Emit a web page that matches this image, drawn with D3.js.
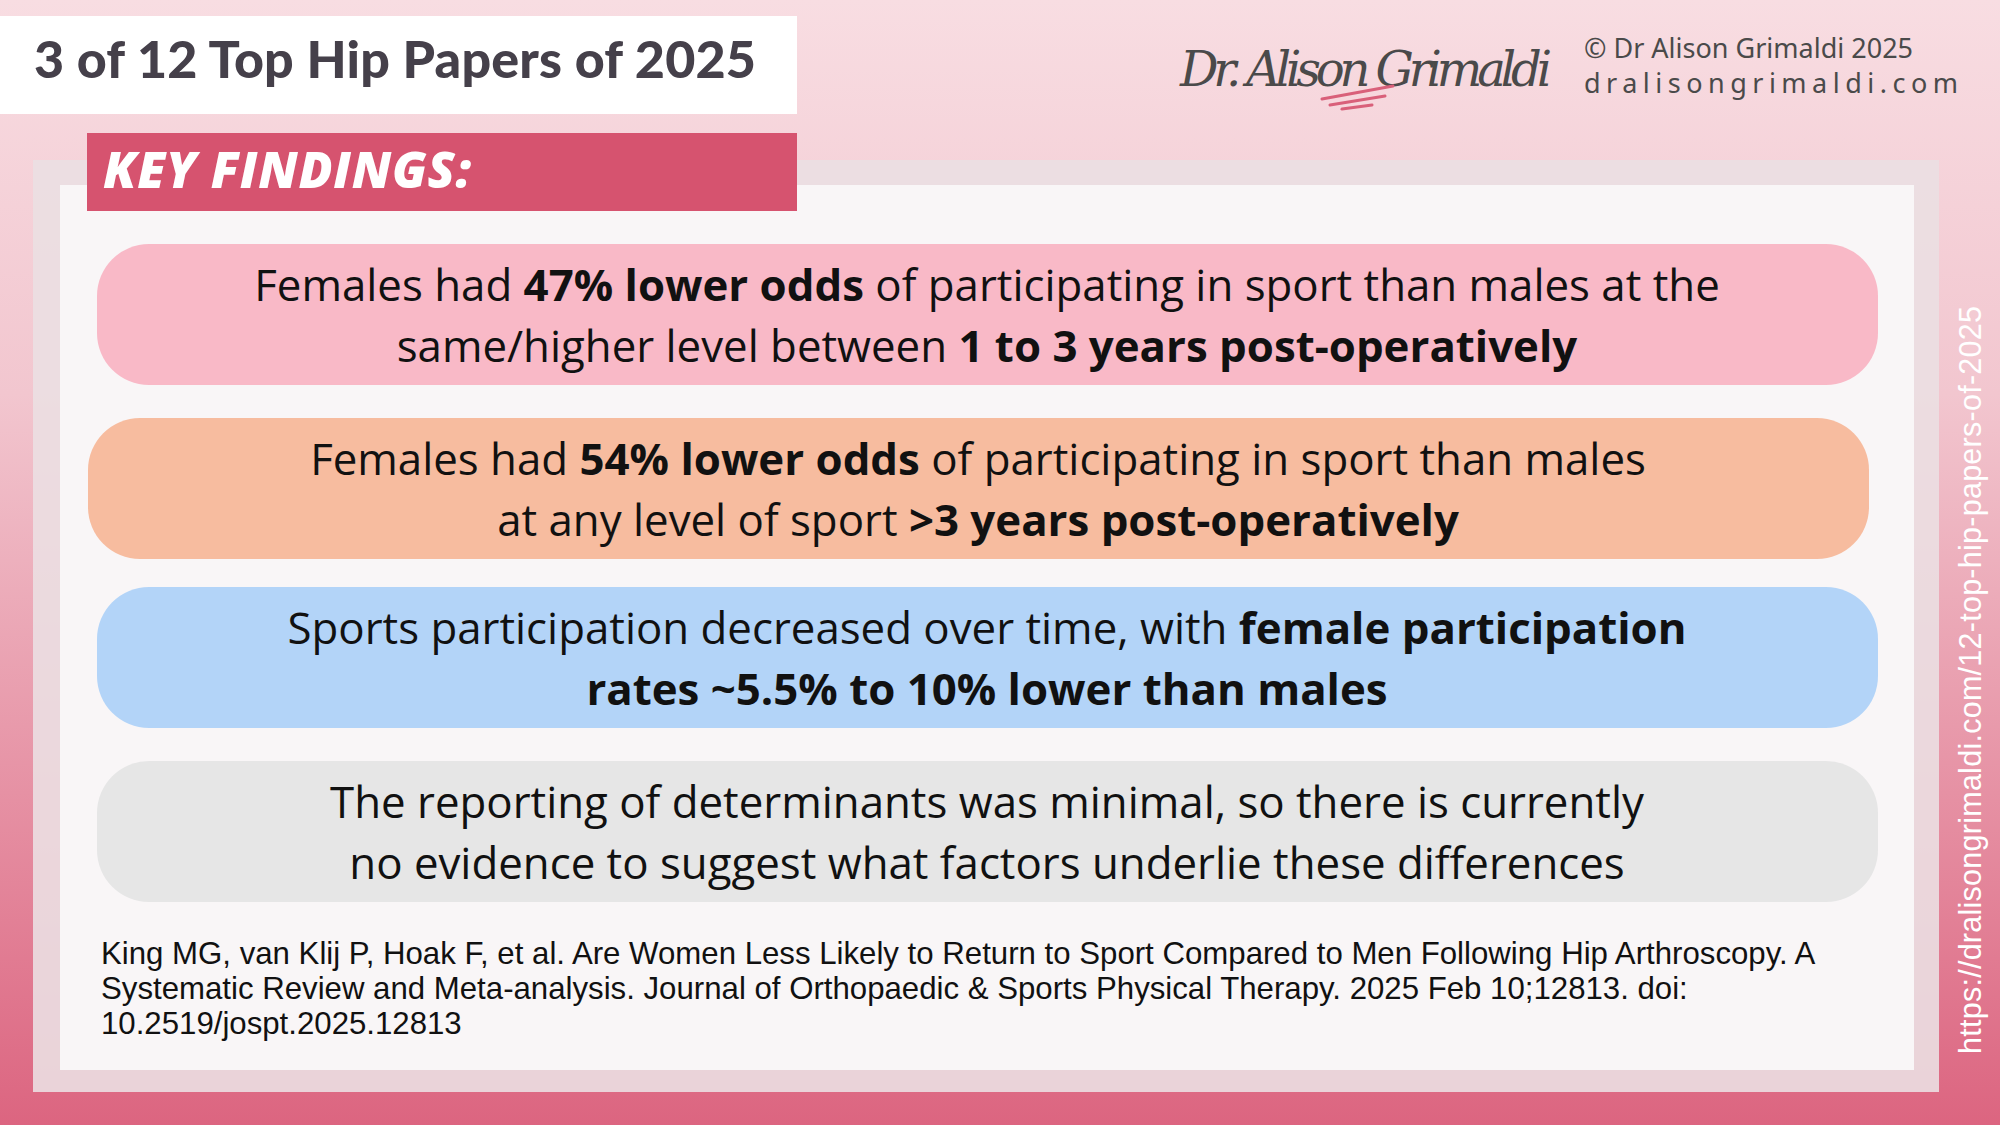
<!DOCTYPE html>
<html><head><meta charset="utf-8">
<script src="https://cdn.jsdelivr.net/npm/d3@7"></script>
<style>body{margin:0;overflow:hidden}</style></head>
<body><svg id="c" width="2000" height="1125"></svg>
<script>
const title = "3 of 12 Top Hip Papers of 2025";
const heading = "KEY FINDINGS:";
const findingColors = ["#f9b9c7","#f7bc9f","#b3d4f8","#e6e6e6"];
const findings = [
 [[["Females had ",0],["47% lower odds",1],[" of participating in sport than males at the",0]],
  [["same/higher level between ",0],["1 to 3 years post-operatively",1]]],
 [[["Females had ",0],["54% lower odds",1],[" of participating in sport than males",0]],
  [["at any level of sport ",0],[">3 years post-operatively",1]]],
 [[["Sports participation decreased over time, with ",0],["female participation",1]],
  [["rates ~5.5% to 10% lower than males",1]]],
 [[["The reporting of determinants was minimal, so there is currently",0]],
  [["no evidence to suggest what factors underlie these differences",0]]]
];
const pillX = [97,88,97,97];
const pillY = [244,418,587,761];
const citation = ["King MG, van Klij P, Hoak F, et al. Are Women Less Likely to Return to Sport Compared to Men Following Hip Arthroscopy. A",
 "Systematic Review and Meta-analysis. Journal of Orthopaedic & Sports Physical Therapy. 2025 Feb 10;12813. doi:",
 "10.2519/jospt.2025.12813"];
const url = "https://dralisongrimaldi.com/12-top-hip-papers-of-2025";

const svg = d3.select("#c");
const defs = svg.append("defs");
const g = defs.append("linearGradient").attr("id","bg").attr("x1",0).attr("x2",0).attr("y1",0).attr("y2",1);
g.append("stop").attr("offset","0%").attr("stop-color","#f8dde2");
g.append("stop").attr("offset","35%").attr("stop-color","#f2c6cf");
g.append("stop").attr("offset","100%").attr("stop-color","#dc6580");
svg.append("rect").attr("width",2000).attr("height",1125).attr("fill","url(#bg)");

svg.append("rect").attr("x",33).attr("y",160).attr("width",1906).attr("height",932).attr("fill","#ebdfe2").attr("opacity",0.9);
svg.append("rect").attr("x",60).attr("y",185).attr("width",1854).attr("height",885).attr("fill","#f9f6f7");

svg.append("rect").attr("x",0).attr("y",16).attr("width",797).attr("height",98).attr("fill","#ffffff");
svg.append("text").attr("x",34).attr("y",78).attr("font-family","Lato, 'Open Sans', sans-serif").attr("font-weight",900)
 .attr("font-size",52).attr("fill","#45404a").attr("textLength",722).text(title);

svg.append("rect").attr("x",87).attr("y",133).attr("width",710).attr("height",78).attr("fill","#d6536f");
svg.append("text").attr("x",103).attr("y",188).attr("font-family","'Open Sans', sans-serif").attr("font-weight",800).attr("font-style","italic")
 .attr("font-size",50).attr("fill","#fff").attr("textLength",368).text(heading);

const y = d3.scaleOrdinal().domain(d3.range(findings.length)).range(pillY);
findings.forEach((f,i)=>{
  const y0 = y(i), h = 141;
  svg.append("rect").attr("x",pillX[i]).attr("y",y0).attr("width",1781).attr("height",h).attr("rx",52).attr("fill",findingColors[i]);
  const cx = pillX[i]+890;
  f.forEach((line,j)=>{
    const t = svg.append("text").attr("x",cx).attr("y",y0+57+j*61).attr("text-anchor","middle")
      .attr("font-family","'Open Sans', sans-serif").attr("font-size",43.8).attr("fill","#111");
    line.forEach(([s,b])=>t.append("tspan").attr("font-weight",b?700:400).text(s));
  });
});

citation.forEach((c,i)=>svg.append("text").attr("x",101).attr("y",964+i*35)
 .attr("font-family","'Liberation Sans', Arial, sans-serif").attr("font-size",31.2).attr("fill","#111").text(c));

svg.append("text").attr("transform","translate(1981,1054) rotate(-90)")
 .attr("font-family","'Liberation Sans', Arial, sans-serif").attr("font-size",30.5).attr("fill","#fff")
 .attr("textLength",748).text(url);

svg.append("text").attr("x",1180).attr("y",86).attr("font-family","'DejaVu Serif', serif").attr("font-style","italic")
 .attr("font-size",48).attr("fill","#4a4a4a").attr("textLength",372).attr("lengthAdjust","spacing").text("Dr. Alison Grimaldi");
[[1322,99,1393,86],[1330,105,1385,96],[1342,109,1372,105]].forEach(d=>
 svg.append("line").attr("x1",d[0]).attr("y1",d[1]).attr("x2",d[2]).attr("y2",d[3]).attr("stroke","#d9607a").attr("stroke-width",3).attr("stroke-linecap","round"));

svg.append("text").attr("x",1584).attr("y",58).attr("font-family","'Noto Sans', sans-serif").attr("font-size",27).attr("fill","#4a4a4a").text("© Dr Alison Grimaldi 2025");
svg.append("text").attr("x",1584).attr("y",93).attr("font-family","'Noto Sans', sans-serif").attr("font-size",27).attr("fill","#4a4a4a")
 .attr("textLength",374).text("dralisongrimaldi.com");
</script></body></html>
